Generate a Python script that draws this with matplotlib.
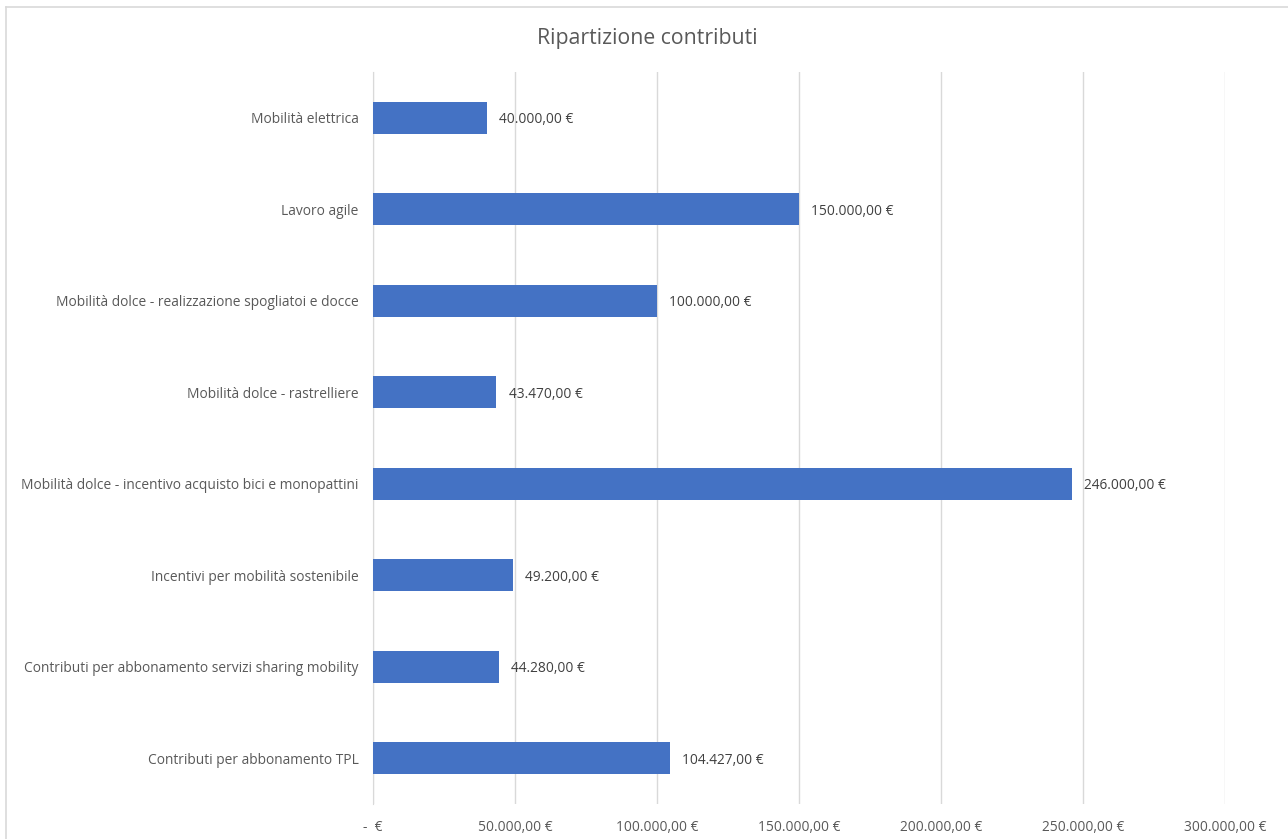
import matplotlib.pyplot as plt
from matplotlib.lines import Line2D

categories = [
    "Mobilità elettrica",
    "Lavoro agile",
    "Mobilità dolce - realizzazione spogliatoi e docce",
    "Mobilità dolce - rastrelliere",
    "Mobilità dolce - incentivo acquisto bici e monopattini",
    "Incentivi per mobilità sostenibile",
    "Contributi per abbonamento servizi sharing mobility",
    "Contributi per abbonamento TPL",
]
values = [40000, 150000, 100000, 43470, 246000, 49200, 44280, 104427]
x_ticks = [0, 50000, 100000, 150000, 200000, 250000, 300000]


def euro(v: float) -> str:
    '''Italian accounting format'''
    if v == 0:
        return "-  €"
    s = "{:,.2f}".format(v)
    s = s.replace(",", "X").replace(".", ",").replace("X", ".")
    return s + " €"


plt.rcParams['font.family'] = ['Open Sans', 'DejaVu Sans']
text_color = "#595959"
grid_color = "#D9D9D9"

fig = plt.figure(figsize=(12.88, 8.39), dpi=100)
ax = fig.add_axes([373 / 1288, 1 - 804 / 839, 852 / 1288, 732 / 839])

pos = list(range(len(categories)))
ax.barh(pos, values, height=0.35, color="#4472C4", zorder=3)

for p, v in zip(pos, values):
    ax.text(v + 4300, p + 0.02, euro(v), va="center", ha="left",
            fontsize=9.9, color="#404040")

ax.set_ylim(len(categories) - 0.5, -0.5)
ax.set_xlim(0, 300000)
ax.set_yticks(pos)
ax.set_yticklabels(categories, fontsize=9.9, color=text_color)
ax.set_xticks(x_ticks)
ax.set_xticklabels([euro(k) for k in x_ticks], fontsize=9.9, color=text_color)
ax.tick_params(axis="both", length=0)
ax.tick_params(axis="y", pad=10.5)
ax.tick_params(axis="x", pad=11.5)

ax.grid(axis="x", color=grid_color, linewidth=1, zorder=0)
for side in ["top", "right", "bottom"]:
    ax.spines[side].set_visible(False)
ax.spines["left"].set_color(grid_color)

fig.text(647 / 1288, 1 - 38.5 / 839, "Ripartizione contributi",
         ha="center", va="center", fontsize=15.3, color=text_color)

# chart border
fig.add_artist(Line2D([5.5 / 1288, 5.5 / 1288], [1 - 7 / 839, 0],
                      color=grid_color, linewidth=1.2))
fig.add_artist(Line2D([5.5 / 1288, 1], [1 - 7 / 839, 1 - 7 / 839],
                      color=grid_color, linewidth=1.2))

fig.savefig("out.png", dpi=100)
